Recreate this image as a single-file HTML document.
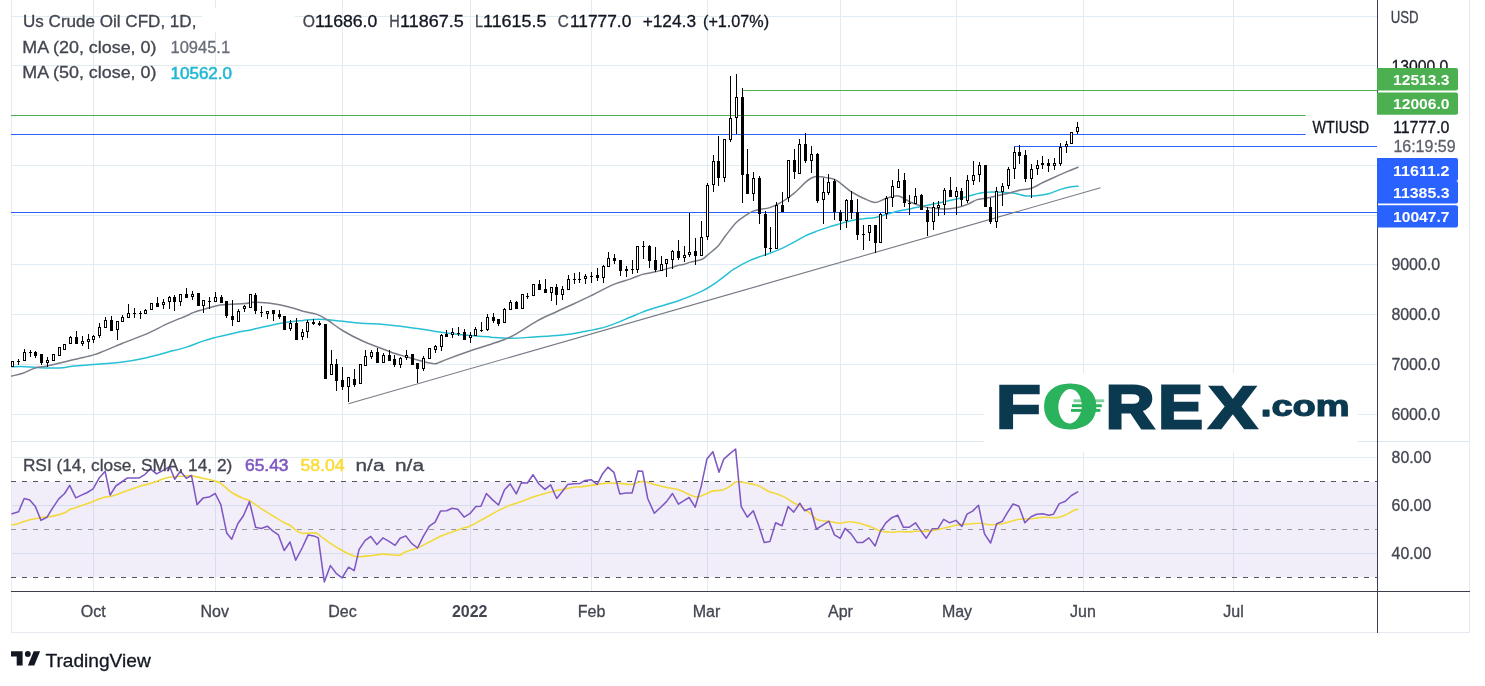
<!DOCTYPE html>
<html><head><meta charset="utf-8"><title>Us Crude Oil CFD</title>
<style>html,body{margin:0;padding:0;background:#fff;}svg{display:block}</style></head>
<body>
<svg width="1485" height="686" viewBox="0 0 1485 686" font-family='"Liberation Sans", sans-serif'>
<rect width="1485" height="686" fill="#fff"/>
<g shape-rendering="crispEdges" stroke="#e1ecf2" stroke-width="1">
<line x1="93.5" y1="0" x2="93.5" y2="591"/>
<line x1="215.5" y1="0" x2="215.5" y2="591"/>
<line x1="342.5" y1="0" x2="342.5" y2="591"/>
<line x1="470.5" y1="0" x2="470.5" y2="591"/>
<line x1="591.5" y1="0" x2="591.5" y2="591"/>
<line x1="707.5" y1="0" x2="707.5" y2="591"/>
<line x1="840.5" y1="0" x2="840.5" y2="591"/>
<line x1="956.5" y1="0" x2="956.5" y2="591"/>
<line x1="1083.5" y1="0" x2="1083.5" y2="591"/>
<line x1="1233.5" y1="0" x2="1233.5" y2="591"/>
<line x1="11" y1="16.5" x2="1377" y2="16.5"/>
<line x1="11" y1="65.5" x2="1377" y2="65.5"/>
<line x1="11" y1="115.5" x2="1377" y2="115.5"/>
<line x1="11" y1="165.5" x2="1377" y2="165.5"/>
<line x1="11" y1="215.5" x2="1377" y2="215.5"/>
<line x1="11" y1="264.5" x2="1377" y2="264.5"/>
<line x1="11" y1="314.5" x2="1377" y2="314.5"/>
<line x1="11" y1="364.5" x2="1377" y2="364.5"/>
<line x1="11" y1="414.5" x2="1377" y2="414.5"/>
<line x1="11" y1="457.5" x2="1377" y2="457.5"/>
<line x1="11" y1="505.5" x2="1377" y2="505.5"/>
<line x1="11" y1="553.5" x2="1377" y2="553.5"/>
</g>
<rect x="11" y="481.5" width="1366.5" height="95.8" fill="rgba(126,87,194,0.1)"/>
<rect x="202" y="8" width="93" height="24" fill="#fff"/>
<g shape-rendering="crispEdges" stroke="#e8eaf2" stroke-width="1">
<line x1="11" y1="441.5" x2="1470" y2="441.5" stroke="#dde5ef"/>
<line x1="11.5" y1="0" x2="11.5" y2="633"/>
<line x1="1469.5" y1="0" x2="1469.5" y2="633"/>
<line x1="11" y1="632.5" x2="1470" y2="632.5"/>
</g>
<g shape-rendering="crispEdges" stroke-width="1" stroke-dasharray="5 6">
<line x1="11" y1="481.5" x2="1377" y2="481.5" stroke="#50535e"/>
<line x1="11" y1="529.5" x2="1377" y2="529.5" stroke="#9598a1"/>
<line x1="11" y1="577.5" x2="1377" y2="577.5" stroke="#50535e"/>
</g>
<g shape-rendering="crispEdges" stroke-width="1">
<line x1="743" y1="90.5" x2="1377" y2="90.5" stroke="#4caf50"/>
<line x1="11" y1="115.5" x2="1377" y2="115.5" stroke="#4caf50"/>
<line x1="11" y1="134.5" x2="1377" y2="134.5" stroke="#2962ff"/>
<line x1="1014" y1="146.5" x2="1377" y2="146.5" stroke="#2962ff"/>
<line x1="11" y1="212.5" x2="1377" y2="212.5" stroke="#2962ff"/>
</g>
<line x1="348.4" y1="403.7" x2="1100.5" y2="187.7" stroke="#787b86" stroke-width="1.1"/>
<path d="M11.6,366.7 C14.0,366.7 21.5,366.5 26.3,366.7 C31.1,366.8 35.9,367.5 40.3,367.7 C44.7,368.0 48.7,368.1 52.5,368.1 C56.3,368.1 59.5,368.1 63.0,367.7 C66.5,367.4 68.4,366.5 73.6,366.0 C78.7,365.4 85.5,365.2 93.7,364.6 C101.9,363.9 114.0,363.1 122.6,361.9 C131.2,360.8 137.8,359.6 145.4,357.9 C152.9,356.3 161.3,353.8 168.1,352.0 C175.0,350.2 180.6,348.9 186.5,347.1 C192.4,345.2 198.7,342.5 203.5,340.9 C208.3,339.3 210.7,338.7 215.6,337.4 C220.4,336.2 227.6,334.5 232.6,333.4 C237.5,332.3 242.2,331.3 245.2,330.8 C248.2,330.2 247.9,330.6 250.5,330.0 C253.1,329.4 255.5,328.6 261.0,327.4 C266.6,326.2 276.8,323.8 283.8,322.7 C290.8,321.5 297.2,321.0 303.0,320.4 C308.9,319.8 313.6,319.2 318.8,319.2 C324.1,319.2 327.6,319.7 334.6,320.4 C341.6,321.0 352.7,322.5 360.8,323.2 C369.0,323.8 376.0,323.8 383.6,324.4 C391.2,325.0 398.2,326.0 406.4,327.0 C414.5,328.1 425.0,329.8 432.6,330.9 C440.3,332.0 445.1,332.8 452.4,333.7 C459.7,334.6 470.2,335.6 476.4,336.1 C482.7,336.7 487.7,336.8 490.0,336.9 C492.3,337.1 486.9,337.0 490.4,337.2 C493.9,337.4 503.8,338.4 511.0,338.3 C518.2,338.3 525.6,337.5 533.8,336.9 C542.0,336.4 552.2,336.0 560.1,335.2 C567.9,334.4 573.2,333.7 581.1,332.2 C588.9,330.7 599.2,328.9 607.3,326.4 C615.5,323.9 624.3,319.7 630.1,317.3 C635.9,314.9 638.1,313.7 642.4,312.1 C646.6,310.5 649.5,309.6 655.5,307.7 C661.5,305.8 670.8,303.4 678.4,300.7 C686.1,298.0 694.8,294.6 701.4,291.4 C707.9,288.2 712.5,285.0 717.7,281.4 C722.9,277.8 729.6,272.2 732.5,270.0 C735.5,267.8 732.8,269.6 735.2,268.3 C737.5,267.0 742.5,264.0 746.5,262.1 C750.6,260.2 755.5,258.3 759.5,256.8 C763.5,255.3 766.7,254.4 770.5,253.0 C774.4,251.5 778.5,249.9 782.5,248.1 C786.5,246.2 790.7,244.0 794.5,241.9 C798.4,239.9 801.6,237.7 805.4,235.8 C809.2,234.0 813.6,232.4 817.5,230.9 C821.3,229.5 824.7,228.3 828.5,227.1 C832.4,225.8 836.7,224.7 840.6,223.6 C844.4,222.4 847.8,221.2 851.6,220.4 C855.5,219.6 859.6,219.1 863.5,218.7 C867.5,218.2 871.6,218.1 875.4,217.4 C879.3,216.7 882.7,215.5 886.5,214.4 C890.3,213.4 894.5,211.8 898.4,210.9 C902.2,210.0 906.8,209.6 909.6,209.0 C912.5,208.5 912.6,208.1 915.6,207.5 C918.6,206.8 922.7,206.2 927.5,205.2 C932.3,204.2 939.7,202.7 944.5,201.7 C949.3,200.7 952.5,199.9 956.4,199.1 C960.2,198.2 963.7,197.4 967.6,196.4 C971.5,195.5 975.7,194.0 979.5,193.3 C983.3,192.6 986.7,192.2 990.5,192.1 C994.4,191.9 998.5,192.2 1002.5,192.4 C1006.5,192.6 1010.7,192.7 1014.5,193.3 C1018.4,193.9 1021.6,195.5 1025.4,195.9 C1029.2,196.3 1033.6,195.9 1037.5,195.6 C1041.3,195.2 1044.7,194.8 1048.5,193.8 C1052.4,192.8 1056.7,190.6 1060.6,189.4 C1064.4,188.3 1068.7,187.3 1071.6,186.8 C1074.5,186.3 1077.0,186.4 1078.1,186.3" fill="none" stroke="#26c0d6" stroke-width="1.5" stroke-linejoin="round" stroke-linecap="round"/>
<path d="M11.6,376.0 C13.4,375.5 18.9,374.6 22.8,373.3 C26.7,372.0 30.9,369.3 35.0,368.1 C39.1,366.8 42.3,367.0 47.3,366.0 C52.2,365.0 59.5,363.2 64.8,361.9 C70.1,360.7 74.0,359.6 78.8,358.4 C83.6,357.3 89.3,356.3 93.7,354.9 C98.1,353.6 100.3,352.5 105.1,350.6 C109.9,348.6 115.9,345.9 122.6,343.2 C129.3,340.5 137.8,337.7 145.4,334.4 C152.9,331.2 161.3,326.5 168.1,323.4 C175.0,320.3 182.5,317.6 186.5,315.9 C190.6,314.1 189.6,314.0 192.5,312.9 C195.3,311.8 199.6,310.6 203.5,309.4 C207.4,308.2 211.6,306.7 215.6,305.9 C219.6,305.1 222.7,304.9 227.7,304.5 C232.6,304.1 241.4,304.0 245.2,303.6 C249.0,303.3 247.9,302.7 250.5,302.5 C253.1,302.3 256.9,302.3 261.0,302.5 C265.1,302.7 270.1,303.1 275.0,303.9 C280.0,304.7 286.1,306.2 290.8,307.4 C295.5,308.6 298.7,310.1 303.0,311.3 C307.4,312.4 313.0,313.0 317.1,314.4 C321.1,315.9 323.3,317.3 327.6,320.0 C331.8,322.7 336.6,327.0 342.5,330.5 C348.3,334.0 356.6,338.3 362.6,341.0 C368.6,343.8 373.1,345.1 378.4,347.2 C383.6,349.2 389.4,351.7 394.1,353.3 C398.8,354.9 401.4,355.4 406.4,356.8 C411.3,358.2 419.7,360.6 423.9,361.7 C428.1,362.8 429.9,362.9 431.8,363.3 C433.7,363.6 434.1,363.9 435.3,363.8 C436.4,363.7 436.9,363.3 438.8,362.6 C440.7,361.9 441.4,361.4 446.7,359.4 C451.9,357.4 463.2,353.2 470.5,350.7 C477.7,348.2 486.4,345.6 490.0,344.5 C493.6,343.3 489.9,344.5 492.2,343.7 C494.5,342.9 500.0,341.3 504.0,339.7 C508.0,338.1 510.7,337.1 516.3,333.9 C521.8,330.8 530.6,324.5 537.3,320.8 C544.0,317.1 550.4,314.6 556.5,311.7 C562.7,308.8 568.2,306.4 574.1,303.7 C579.9,300.9 585.2,298.5 591.6,295.4 C598.0,292.3 606.2,287.6 612.6,284.9 C619.0,282.2 625.1,280.9 630.1,279.1 C635.1,277.4 638.1,275.6 642.4,274.4 C646.6,273.2 650.5,272.9 655.5,271.8 C660.5,270.6 668.2,268.5 672.1,267.4 C676.1,266.3 677.1,265.7 679.1,265.1 C681.2,264.6 682.7,264.7 684.6,264.2 C686.4,263.7 687.7,262.9 690.5,262.1 C693.3,261.3 698.7,260.6 701.5,259.5 C704.4,258.3 704.7,257.4 707.5,255.1 C710.3,252.7 715.5,248.7 718.5,245.4 C721.5,242.2 722.6,239.6 725.5,235.8 C728.5,232.0 732.5,226.2 736.0,222.7 C739.5,219.2 743.6,216.8 746.5,214.8 C749.5,212.8 751.4,211.8 753.6,210.9 C755.7,210.1 756.7,210.1 759.5,209.5 C762.3,209.0 766.7,208.8 770.5,207.4 C774.4,206.1 778.5,204.1 782.5,201.7 C786.5,199.2 790.7,196.1 794.5,192.9 C798.4,189.7 802.6,184.9 805.4,182.4 C808.2,179.9 809.5,179.0 811.5,178.0 C813.5,177.1 814.6,176.6 817.5,176.6 C820.3,176.6 825.7,177.6 828.5,178.0 C831.3,178.5 832.5,178.5 834.5,179.4 C836.5,180.3 837.7,181.2 840.6,183.3 C843.5,185.4 847.8,189.6 851.6,192.0 C855.5,194.5 859.6,196.4 863.5,198.2 C867.5,199.9 871.6,202.5 875.4,202.5 C879.3,202.5 882.7,199.3 886.5,198.2 C890.3,197.1 894.5,195.3 898.4,195.9 C902.2,196.5 905.8,200.0 909.6,201.7 C913.5,203.4 917.6,205.0 921.5,206.1 C925.5,207.2 929.6,207.8 933.5,208.3 C937.3,208.8 940.7,209.1 944.5,209.0 C948.3,209.0 952.5,208.6 956.4,207.8 C960.2,207.0 964.2,205.7 967.6,204.3 C971.0,202.9 974.1,200.6 977.1,199.6 C980.0,198.6 982.2,198.8 985.5,198.2 C988.7,197.6 992.7,196.7 996.5,195.9 C1000.3,195.1 1004.6,194.2 1008.4,193.3 C1012.2,192.3 1015.6,191.2 1019.4,190.3 C1023.3,189.5 1027.7,189.5 1031.5,188.2 C1035.3,186.9 1038.6,184.6 1042.4,182.8 C1046.2,180.9 1050.4,179.0 1054.5,177.2 C1058.5,175.4 1062.6,173.6 1066.5,171.9 C1070.5,170.3 1076.2,168.0 1078.1,167.2" fill="none" stroke="#7b7e89" stroke-width="1.5" stroke-linejoin="round" stroke-linecap="round"/>
<g shape-rendering="crispEdges" fill="#000">
<rect x="12" y="361" width="1" height="6"/>
<rect x="11" y="361" width="3" height="6"/>
<rect x="12" y="362" width="1" height="4" fill="#fff"/>
<rect x="18" y="359" width="1" height="6"/>
<rect x="17" y="361" width="3" height="1"/>
<rect x="24" y="349" width="1" height="12"/>
<rect x="23" y="352" width="3" height="9"/>
<rect x="24" y="353" width="1" height="7" fill="#fff"/>
<rect x="30" y="350" width="1" height="7"/>
<rect x="29" y="352" width="3" height="1"/>
<rect x="35" y="351" width="1" height="7"/>
<rect x="34" y="352" width="3" height="4"/>
<rect x="41" y="354" width="1" height="11"/>
<rect x="40" y="354" width="3" height="9"/>
<rect x="47" y="357" width="1" height="10"/>
<rect x="46" y="360" width="3" height="3"/>
<rect x="47" y="361" width="1" height="1" fill="#fff"/>
<rect x="53" y="354" width="1" height="7"/>
<rect x="52" y="354" width="3" height="7"/>
<rect x="53" y="355" width="1" height="5" fill="#fff"/>
<rect x="59" y="347" width="1" height="9"/>
<rect x="58" y="347" width="3" height="9"/>
<rect x="59" y="348" width="1" height="7" fill="#fff"/>
<rect x="64" y="344" width="1" height="6"/>
<rect x="63" y="344" width="3" height="6"/>
<rect x="64" y="345" width="1" height="4" fill="#fff"/>
<rect x="70" y="336" width="1" height="8"/>
<rect x="69" y="337" width="3" height="7"/>
<rect x="70" y="338" width="1" height="5" fill="#fff"/>
<rect x="76" y="331" width="1" height="13"/>
<rect x="75" y="337" width="3" height="7"/>
<rect x="82" y="336" width="1" height="10"/>
<rect x="81" y="341" width="3" height="3"/>
<rect x="82" y="342" width="1" height="1" fill="#fff"/>
<rect x="88" y="334" width="1" height="15"/>
<rect x="87" y="339" width="3" height="3"/>
<rect x="88" y="340" width="1" height="1" fill="#fff"/>
<rect x="93" y="335" width="1" height="8"/>
<rect x="92" y="336" width="3" height="4"/>
<rect x="93" y="337" width="1" height="2" fill="#fff"/>
<rect x="99" y="323" width="1" height="15"/>
<rect x="98" y="327" width="3" height="9"/>
<rect x="99" y="328" width="1" height="7" fill="#fff"/>
<rect x="105" y="317" width="1" height="11"/>
<rect x="104" y="320" width="3" height="8"/>
<rect x="105" y="321" width="1" height="6" fill="#fff"/>
<rect x="111" y="316" width="1" height="15"/>
<rect x="110" y="320" width="3" height="11"/>
<rect x="117" y="321" width="1" height="19"/>
<rect x="116" y="321" width="3" height="9"/>
<rect x="117" y="322" width="1" height="7" fill="#fff"/>
<rect x="122" y="315" width="1" height="7"/>
<rect x="121" y="317" width="3" height="5"/>
<rect x="122" y="318" width="1" height="3" fill="#fff"/>
<rect x="128" y="304" width="1" height="14"/>
<rect x="127" y="313" width="3" height="5"/>
<rect x="128" y="314" width="1" height="3" fill="#fff"/>
<rect x="134" y="308" width="1" height="10"/>
<rect x="133" y="313" width="3" height="1"/>
<rect x="140" y="311" width="1" height="8"/>
<rect x="139" y="313" width="3" height="1"/>
<rect x="145" y="309" width="1" height="5"/>
<rect x="144" y="310" width="3" height="4"/>
<rect x="145" y="311" width="1" height="2" fill="#fff"/>
<rect x="151" y="303" width="1" height="7"/>
<rect x="150" y="303" width="3" height="7"/>
<rect x="151" y="304" width="1" height="5" fill="#fff"/>
<rect x="157" y="297" width="1" height="10"/>
<rect x="156" y="303" width="3" height="4"/>
<rect x="163" y="299" width="1" height="10"/>
<rect x="162" y="302" width="3" height="3"/>
<rect x="163" y="303" width="1" height="1" fill="#fff"/>
<rect x="169" y="296" width="1" height="13"/>
<rect x="168" y="297" width="3" height="5"/>
<rect x="169" y="298" width="1" height="3" fill="#fff"/>
<rect x="174" y="295" width="1" height="16"/>
<rect x="173" y="297" width="3" height="5"/>
<rect x="180" y="294" width="1" height="12"/>
<rect x="179" y="294" width="3" height="8"/>
<rect x="180" y="295" width="1" height="6" fill="#fff"/>
<rect x="186" y="288" width="1" height="10"/>
<rect x="185" y="294" width="3" height="4"/>
<rect x="192" y="291" width="1" height="9"/>
<rect x="191" y="294" width="3" height="3"/>
<rect x="192" y="295" width="1" height="1" fill="#fff"/>
<rect x="198" y="293" width="1" height="13"/>
<rect x="197" y="293" width="3" height="13"/>
<rect x="203" y="300" width="1" height="13"/>
<rect x="202" y="300" width="3" height="6"/>
<rect x="203" y="301" width="1" height="4" fill="#fff"/>
<rect x="209" y="297" width="1" height="12"/>
<rect x="208" y="301" width="3" height="1"/>
<rect x="215" y="292" width="1" height="10"/>
<rect x="214" y="297" width="3" height="5"/>
<rect x="215" y="298" width="1" height="3" fill="#fff"/>
<rect x="221" y="295" width="1" height="8"/>
<rect x="220" y="297" width="3" height="6"/>
<rect x="226" y="301" width="1" height="17"/>
<rect x="225" y="301" width="3" height="15"/>
<rect x="232" y="300" width="1" height="26"/>
<rect x="231" y="316" width="3" height="4"/>
<rect x="238" y="309" width="1" height="13"/>
<rect x="237" y="311" width="3" height="11"/>
<rect x="238" y="312" width="1" height="9" fill="#fff"/>
<rect x="244" y="305" width="1" height="7"/>
<rect x="243" y="306" width="3" height="3"/>
<rect x="244" y="307" width="1" height="1" fill="#fff"/>
<rect x="250" y="294" width="1" height="14"/>
<rect x="249" y="294" width="3" height="14"/>
<rect x="250" y="295" width="1" height="12" fill="#fff"/>
<rect x="255" y="293" width="1" height="21"/>
<rect x="254" y="295" width="3" height="16"/>
<rect x="261" y="306" width="1" height="11"/>
<rect x="260" y="312" width="3" height="1"/>
<rect x="267" y="311" width="1" height="8"/>
<rect x="266" y="311" width="3" height="3"/>
<rect x="267" y="312" width="1" height="1" fill="#fff"/>
<rect x="273" y="310" width="1" height="11"/>
<rect x="272" y="310" width="3" height="4"/>
<rect x="279" y="310" width="1" height="9"/>
<rect x="278" y="314" width="3" height="3"/>
<rect x="284" y="316" width="1" height="14"/>
<rect x="283" y="316" width="3" height="14"/>
<rect x="290" y="320" width="1" height="11"/>
<rect x="289" y="323" width="3" height="6"/>
<rect x="290" y="324" width="1" height="4" fill="#fff"/>
<rect x="296" y="318" width="1" height="22"/>
<rect x="295" y="323" width="3" height="17"/>
<rect x="302" y="329" width="1" height="11"/>
<rect x="301" y="332" width="3" height="5"/>
<rect x="302" y="333" width="1" height="3" fill="#fff"/>
<rect x="307" y="320" width="1" height="18"/>
<rect x="306" y="322" width="3" height="10"/>
<rect x="307" y="323" width="1" height="8" fill="#fff"/>
<rect x="313" y="319" width="1" height="6"/>
<rect x="312" y="322" width="3" height="2"/>
<rect x="319" y="321" width="1" height="5"/>
<rect x="318" y="323" width="3" height="2"/>
<rect x="325" y="324" width="1" height="55"/>
<rect x="324" y="324" width="3" height="55"/>
<rect x="331" y="350" width="1" height="25"/>
<rect x="330" y="364" width="3" height="11"/>
<rect x="331" y="365" width="1" height="9" fill="#fff"/>
<rect x="336" y="359" width="1" height="32"/>
<rect x="335" y="364" width="3" height="17"/>
<rect x="342" y="367" width="1" height="23"/>
<rect x="341" y="380" width="3" height="7"/>
<rect x="348" y="377" width="1" height="25"/>
<rect x="347" y="377" width="3" height="10"/>
<rect x="348" y="378" width="1" height="8" fill="#fff"/>
<rect x="354" y="369" width="1" height="18"/>
<rect x="353" y="379" width="3" height="6"/>
<rect x="360" y="364" width="1" height="20"/>
<rect x="359" y="364" width="3" height="20"/>
<rect x="360" y="365" width="1" height="18" fill="#fff"/>
<rect x="365" y="350" width="1" height="16"/>
<rect x="364" y="356" width="3" height="10"/>
<rect x="365" y="357" width="1" height="8" fill="#fff"/>
<rect x="371" y="350" width="1" height="9"/>
<rect x="370" y="352" width="3" height="5"/>
<rect x="371" y="353" width="1" height="3" fill="#fff"/>
<rect x="377" y="348" width="1" height="15"/>
<rect x="376" y="352" width="3" height="11"/>
<rect x="383" y="353" width="1" height="10"/>
<rect x="382" y="355" width="3" height="8"/>
<rect x="383" y="356" width="1" height="6" fill="#fff"/>
<rect x="389" y="350" width="1" height="11"/>
<rect x="388" y="355" width="3" height="6"/>
<rect x="394" y="355" width="1" height="12"/>
<rect x="393" y="359" width="3" height="6"/>
<rect x="400" y="357" width="1" height="11"/>
<rect x="399" y="358" width="3" height="7"/>
<rect x="400" y="359" width="1" height="5" fill="#fff"/>
<rect x="406" y="350" width="1" height="10"/>
<rect x="405" y="355" width="3" height="3"/>
<rect x="406" y="356" width="1" height="1" fill="#fff"/>
<rect x="412" y="354" width="1" height="11"/>
<rect x="411" y="354" width="3" height="11"/>
<rect x="417" y="363" width="1" height="20"/>
<rect x="416" y="363" width="3" height="6"/>
<rect x="423" y="356" width="1" height="15"/>
<rect x="422" y="358" width="3" height="11"/>
<rect x="423" y="359" width="1" height="9" fill="#fff"/>
<rect x="429" y="348" width="1" height="11"/>
<rect x="428" y="348" width="3" height="11"/>
<rect x="429" y="349" width="1" height="9" fill="#fff"/>
<rect x="435" y="345" width="1" height="8"/>
<rect x="434" y="346" width="3" height="4"/>
<rect x="435" y="347" width="1" height="2" fill="#fff"/>
<rect x="441" y="334" width="1" height="17"/>
<rect x="440" y="335" width="3" height="12"/>
<rect x="441" y="336" width="1" height="10" fill="#fff"/>
<rect x="446" y="330" width="1" height="7"/>
<rect x="445" y="334" width="3" height="3"/>
<rect x="452" y="328" width="1" height="10"/>
<rect x="451" y="332" width="3" height="3"/>
<rect x="452" y="333" width="1" height="1" fill="#fff"/>
<rect x="458" y="327" width="1" height="9"/>
<rect x="457" y="333" width="3" height="1"/>
<rect x="464" y="329" width="1" height="11"/>
<rect x="463" y="332" width="3" height="8"/>
<rect x="470" y="332" width="1" height="11"/>
<rect x="469" y="335" width="3" height="3"/>
<rect x="470" y="336" width="1" height="1" fill="#fff"/>
<rect x="475" y="327" width="1" height="9"/>
<rect x="474" y="329" width="3" height="7"/>
<rect x="475" y="330" width="1" height="5" fill="#fff"/>
<rect x="481" y="322" width="1" height="10"/>
<rect x="480" y="330" width="3" height="1"/>
<rect x="487" y="314" width="1" height="17"/>
<rect x="486" y="317" width="3" height="13"/>
<rect x="487" y="318" width="1" height="11" fill="#fff"/>
<rect x="493" y="313" width="1" height="10"/>
<rect x="492" y="317" width="3" height="4"/>
<rect x="498" y="319" width="1" height="7"/>
<rect x="497" y="319" width="3" height="5"/>
<rect x="504" y="308" width="1" height="15"/>
<rect x="503" y="309" width="3" height="14"/>
<rect x="504" y="310" width="1" height="12" fill="#fff"/>
<rect x="510" y="300" width="1" height="10"/>
<rect x="509" y="302" width="3" height="8"/>
<rect x="510" y="303" width="1" height="6" fill="#fff"/>
<rect x="516" y="301" width="1" height="8"/>
<rect x="515" y="302" width="3" height="7"/>
<rect x="522" y="294" width="1" height="15"/>
<rect x="521" y="294" width="3" height="15"/>
<rect x="522" y="295" width="1" height="13" fill="#fff"/>
<rect x="527" y="293" width="1" height="6"/>
<rect x="526" y="296" width="3" height="1"/>
<rect x="533" y="284" width="1" height="12"/>
<rect x="532" y="284" width="3" height="12"/>
<rect x="533" y="285" width="1" height="10" fill="#fff"/>
<rect x="539" y="280" width="1" height="10"/>
<rect x="538" y="284" width="3" height="6"/>
<rect x="545" y="279" width="1" height="14"/>
<rect x="544" y="289" width="3" height="4"/>
<rect x="551" y="287" width="1" height="14"/>
<rect x="550" y="287" width="3" height="6"/>
<rect x="551" y="288" width="1" height="4" fill="#fff"/>
<rect x="556" y="284" width="1" height="21"/>
<rect x="555" y="287" width="3" height="8"/>
<rect x="562" y="286" width="1" height="14"/>
<rect x="561" y="289" width="3" height="6"/>
<rect x="562" y="290" width="1" height="4" fill="#fff"/>
<rect x="568" y="275" width="1" height="15"/>
<rect x="567" y="279" width="3" height="11"/>
<rect x="568" y="280" width="1" height="9" fill="#fff"/>
<rect x="574" y="273" width="1" height="11"/>
<rect x="573" y="279" width="3" height="1"/>
<rect x="579" y="272" width="1" height="11"/>
<rect x="578" y="279" width="3" height="1"/>
<rect x="585" y="274" width="1" height="10"/>
<rect x="584" y="276" width="3" height="3"/>
<rect x="585" y="277" width="1" height="1" fill="#fff"/>
<rect x="591" y="272" width="1" height="11"/>
<rect x="590" y="276" width="3" height="1"/>
<rect x="597" y="268" width="1" height="13"/>
<rect x="596" y="275" width="3" height="3"/>
<rect x="603" y="265" width="1" height="18"/>
<rect x="602" y="266" width="3" height="12"/>
<rect x="603" y="267" width="1" height="10" fill="#fff"/>
<rect x="608" y="252" width="1" height="15"/>
<rect x="607" y="258" width="3" height="9"/>
<rect x="608" y="259" width="1" height="7" fill="#fff"/>
<rect x="614" y="254" width="1" height="10"/>
<rect x="613" y="258" width="3" height="3"/>
<rect x="620" y="260" width="1" height="16"/>
<rect x="619" y="260" width="3" height="11"/>
<rect x="626" y="266" width="1" height="11"/>
<rect x="625" y="269" width="3" height="2"/>
<rect x="632" y="260" width="1" height="14"/>
<rect x="631" y="269" width="3" height="1"/>
<rect x="637" y="246" width="1" height="27"/>
<rect x="636" y="246" width="3" height="24"/>
<rect x="637" y="247" width="1" height="22" fill="#fff"/>
<rect x="643" y="241" width="1" height="18"/>
<rect x="642" y="246" width="3" height="1"/>
<rect x="649" y="245" width="1" height="23"/>
<rect x="648" y="246" width="3" height="15"/>
<rect x="655" y="247" width="1" height="25"/>
<rect x="654" y="260" width="3" height="10"/>
<rect x="661" y="256" width="1" height="15"/>
<rect x="660" y="264" width="3" height="7"/>
<rect x="661" y="265" width="1" height="5" fill="#fff"/>
<rect x="666" y="259" width="1" height="18"/>
<rect x="665" y="259" width="3" height="5"/>
<rect x="666" y="260" width="1" height="3" fill="#fff"/>
<rect x="672" y="250" width="1" height="19"/>
<rect x="671" y="251" width="3" height="9"/>
<rect x="672" y="252" width="1" height="7" fill="#fff"/>
<rect x="678" y="240" width="1" height="20"/>
<rect x="677" y="251" width="3" height="7"/>
<rect x="684" y="246" width="1" height="16"/>
<rect x="683" y="255" width="3" height="3"/>
<rect x="684" y="256" width="1" height="1" fill="#fff"/>
<rect x="689" y="213" width="1" height="44"/>
<rect x="688" y="252" width="3" height="3"/>
<rect x="689" y="253" width="1" height="1" fill="#fff"/>
<rect x="695" y="238" width="1" height="27"/>
<rect x="694" y="251" width="3" height="5"/>
<rect x="701" y="221" width="1" height="35"/>
<rect x="700" y="237" width="3" height="19"/>
<rect x="701" y="238" width="1" height="17" fill="#fff"/>
<rect x="707" y="183" width="1" height="57"/>
<rect x="706" y="185" width="3" height="52"/>
<rect x="707" y="186" width="1" height="50" fill="#fff"/>
<rect x="713" y="155" width="1" height="37"/>
<rect x="712" y="161" width="3" height="24"/>
<rect x="713" y="162" width="1" height="22" fill="#fff"/>
<rect x="718" y="136" width="1" height="50"/>
<rect x="717" y="161" width="3" height="17"/>
<rect x="724" y="139" width="1" height="43"/>
<rect x="723" y="139" width="3" height="39"/>
<rect x="724" y="140" width="1" height="37" fill="#fff"/>
<rect x="730" y="76" width="1" height="66"/>
<rect x="729" y="118" width="3" height="22"/>
<rect x="730" y="119" width="1" height="20" fill="#fff"/>
<rect x="736" y="74" width="1" height="60"/>
<rect x="735" y="97" width="3" height="21"/>
<rect x="736" y="98" width="1" height="19" fill="#fff"/>
<rect x="742" y="88" width="1" height="115"/>
<rect x="741" y="97" width="3" height="78"/>
<rect x="747" y="149" width="1" height="45"/>
<rect x="746" y="174" width="3" height="20"/>
<rect x="753" y="172" width="1" height="29"/>
<rect x="752" y="178" width="3" height="16"/>
<rect x="753" y="179" width="1" height="14" fill="#fff"/>
<rect x="759" y="176" width="1" height="48"/>
<rect x="758" y="178" width="3" height="36"/>
<rect x="765" y="211" width="1" height="45"/>
<rect x="764" y="214" width="3" height="34"/>
<rect x="770" y="227" width="1" height="25"/>
<rect x="769" y="248" width="3" height="1"/>
<rect x="776" y="202" width="1" height="47"/>
<rect x="775" y="205" width="3" height="44"/>
<rect x="776" y="206" width="1" height="42" fill="#fff"/>
<rect x="782" y="192" width="1" height="20"/>
<rect x="781" y="205" width="3" height="7"/>
<rect x="788" y="160" width="1" height="42"/>
<rect x="787" y="160" width="3" height="38"/>
<rect x="788" y="161" width="1" height="36" fill="#fff"/>
<rect x="794" y="149" width="1" height="30"/>
<rect x="793" y="160" width="3" height="12"/>
<rect x="799" y="139" width="1" height="35"/>
<rect x="798" y="144" width="3" height="30"/>
<rect x="799" y="145" width="1" height="28" fill="#fff"/>
<rect x="805" y="133" width="1" height="30"/>
<rect x="804" y="144" width="3" height="17"/>
<rect x="811" y="146" width="1" height="27"/>
<rect x="810" y="154" width="3" height="7"/>
<rect x="811" y="155" width="1" height="5" fill="#fff"/>
<rect x="817" y="153" width="1" height="50"/>
<rect x="816" y="154" width="3" height="47"/>
<rect x="823" y="178" width="1" height="46"/>
<rect x="822" y="192" width="3" height="8"/>
<rect x="823" y="193" width="1" height="6" fill="#fff"/>
<rect x="828" y="174" width="1" height="21"/>
<rect x="827" y="182" width="3" height="11"/>
<rect x="828" y="183" width="1" height="9" fill="#fff"/>
<rect x="834" y="179" width="1" height="41"/>
<rect x="833" y="181" width="3" height="31"/>
<rect x="840" y="210" width="1" height="20"/>
<rect x="839" y="212" width="3" height="9"/>
<rect x="846" y="199" width="1" height="29"/>
<rect x="845" y="200" width="3" height="21"/>
<rect x="846" y="201" width="1" height="19" fill="#fff"/>
<rect x="851" y="191" width="1" height="28"/>
<rect x="850" y="200" width="3" height="13"/>
<rect x="857" y="199" width="1" height="41"/>
<rect x="856" y="212" width="3" height="23"/>
<rect x="863" y="225" width="1" height="25"/>
<rect x="862" y="234" width="3" height="1"/>
<rect x="869" y="225" width="1" height="16"/>
<rect x="868" y="225" width="3" height="8"/>
<rect x="869" y="226" width="1" height="6" fill="#fff"/>
<rect x="875" y="225" width="1" height="28"/>
<rect x="874" y="225" width="3" height="18"/>
<rect x="880" y="213" width="1" height="30"/>
<rect x="879" y="214" width="3" height="29"/>
<rect x="880" y="215" width="1" height="27" fill="#fff"/>
<rect x="886" y="196" width="1" height="23"/>
<rect x="885" y="198" width="3" height="16"/>
<rect x="886" y="199" width="1" height="14" fill="#fff"/>
<rect x="892" y="180" width="1" height="27"/>
<rect x="891" y="186" width="3" height="12"/>
<rect x="892" y="187" width="1" height="10" fill="#fff"/>
<rect x="898" y="169" width="1" height="19"/>
<rect x="897" y="181" width="3" height="7"/>
<rect x="898" y="182" width="1" height="5" fill="#fff"/>
<rect x="904" y="173" width="1" height="34"/>
<rect x="903" y="180" width="3" height="23"/>
<rect x="909" y="195" width="1" height="20"/>
<rect x="908" y="203" width="3" height="1"/>
<rect x="915" y="188" width="1" height="16"/>
<rect x="914" y="196" width="3" height="8"/>
<rect x="915" y="197" width="1" height="6" fill="#fff"/>
<rect x="921" y="194" width="1" height="16"/>
<rect x="920" y="195" width="3" height="15"/>
<rect x="927" y="207" width="1" height="29"/>
<rect x="926" y="210" width="3" height="12"/>
<rect x="933" y="202" width="1" height="28"/>
<rect x="932" y="207" width="3" height="15"/>
<rect x="933" y="208" width="1" height="13" fill="#fff"/>
<rect x="938" y="201" width="1" height="15"/>
<rect x="937" y="205" width="3" height="3"/>
<rect x="938" y="206" width="1" height="1" fill="#fff"/>
<rect x="944" y="188" width="1" height="27"/>
<rect x="943" y="190" width="3" height="15"/>
<rect x="944" y="191" width="1" height="13" fill="#fff"/>
<rect x="950" y="177" width="1" height="20"/>
<rect x="949" y="190" width="3" height="7"/>
<rect x="956" y="187" width="1" height="28"/>
<rect x="955" y="191" width="3" height="6"/>
<rect x="956" y="192" width="1" height="4" fill="#fff"/>
<rect x="961" y="188" width="1" height="18"/>
<rect x="960" y="191" width="3" height="9"/>
<rect x="967" y="175" width="1" height="28"/>
<rect x="966" y="180" width="3" height="21"/>
<rect x="967" y="181" width="1" height="19" fill="#fff"/>
<rect x="973" y="161" width="1" height="24"/>
<rect x="972" y="175" width="3" height="6"/>
<rect x="973" y="176" width="1" height="4" fill="#fff"/>
<rect x="979" y="162" width="1" height="20"/>
<rect x="978" y="165" width="3" height="10"/>
<rect x="979" y="166" width="1" height="8" fill="#fff"/>
<rect x="985" y="165" width="1" height="42"/>
<rect x="984" y="165" width="3" height="42"/>
<rect x="990" y="198" width="1" height="26"/>
<rect x="989" y="207" width="3" height="15"/>
<rect x="996" y="187" width="1" height="41"/>
<rect x="995" y="191" width="3" height="31"/>
<rect x="996" y="192" width="1" height="29" fill="#fff"/>
<rect x="1002" y="183" width="1" height="23"/>
<rect x="1001" y="186" width="3" height="6"/>
<rect x="1002" y="187" width="1" height="4" fill="#fff"/>
<rect x="1008" y="167" width="1" height="22"/>
<rect x="1007" y="169" width="3" height="17"/>
<rect x="1008" y="170" width="1" height="15" fill="#fff"/>
<rect x="1014" y="147" width="1" height="32"/>
<rect x="1013" y="152" width="3" height="17"/>
<rect x="1014" y="153" width="1" height="15" fill="#fff"/>
<rect x="1019" y="145" width="1" height="19"/>
<rect x="1018" y="152" width="3" height="4"/>
<rect x="1025" y="150" width="1" height="32"/>
<rect x="1024" y="155" width="3" height="24"/>
<rect x="1031" y="164" width="1" height="34"/>
<rect x="1030" y="169" width="3" height="10"/>
<rect x="1031" y="170" width="1" height="8" fill="#fff"/>
<rect x="1037" y="160" width="1" height="15"/>
<rect x="1036" y="165" width="3" height="4"/>
<rect x="1037" y="166" width="1" height="2" fill="#fff"/>
<rect x="1042" y="156" width="1" height="13"/>
<rect x="1041" y="163" width="3" height="2"/>
<rect x="1048" y="159" width="1" height="13"/>
<rect x="1047" y="163" width="3" height="3"/>
<rect x="1054" y="158" width="1" height="12"/>
<rect x="1053" y="163" width="3" height="3"/>
<rect x="1054" y="164" width="1" height="1" fill="#fff"/>
<rect x="1060" y="143" width="1" height="23"/>
<rect x="1059" y="147" width="3" height="17"/>
<rect x="1060" y="148" width="1" height="15" fill="#fff"/>
<rect x="1066" y="141" width="1" height="12"/>
<rect x="1065" y="144" width="3" height="3"/>
<rect x="1066" y="145" width="1" height="1" fill="#fff"/>
<rect x="1071" y="132" width="1" height="12"/>
<rect x="1070" y="132" width="3" height="12"/>
<rect x="1071" y="133" width="1" height="10" fill="#fff"/>
<rect x="1077" y="122" width="1" height="12"/>
<rect x="1076" y="127" width="3" height="5"/>
<rect x="1077" y="128" width="1" height="3" fill="#fff"/>
</g>
<path d="M12.1,524.8 C13.2,524.6 15.7,524.2 18.6,523.4 C21.5,522.5 26.0,520.7 29.7,519.7 C33.4,518.8 37.1,518.3 41.0,517.7 C44.9,517.1 49.0,517.0 52.9,516.1 C56.9,515.3 61.9,513.8 64.6,512.7 C67.4,511.6 67.8,510.5 69.7,509.6 C71.5,508.8 72.8,508.6 75.8,507.6 C78.7,506.6 83.4,505.0 87.3,503.6 C91.1,502.2 96.0,500.2 99.0,499.1 C102.0,498.1 103.2,497.6 105.1,497.1 C106.9,496.7 108.3,496.9 110.1,496.5 C111.9,496.2 112.9,496.1 115.8,495.1 C118.7,494.1 123.5,491.9 127.5,490.5 C131.4,489.0 135.6,487.6 139.4,486.4 C143.2,485.2 146.7,484.6 150.5,483.4 C154.3,482.2 159.0,480.4 162.2,479.3 C165.4,478.3 166.7,477.8 169.7,477.3 C172.7,476.8 176.8,476.5 180.4,476.3 C184.0,476.1 187.7,475.6 191.5,475.9 C195.3,476.2 199.1,477.5 203.0,478.3 C207.0,479.2 212.2,480.1 215.2,481.0 C218.1,481.8 218.0,481.5 220.8,483.4 C223.6,485.3 227.9,489.9 231.7,492.5 C235.5,495.0 240.5,497.2 243.4,498.5 C246.4,499.9 246.5,498.9 249.5,500.6 C252.5,502.2 257.3,506.1 261.2,508.6 C265.1,511.2 268.9,513.4 272.7,515.7 C276.6,518.1 281.4,521.2 284.2,522.8 C287.1,524.4 288.0,524.0 290.0,525.2 C292.0,526.4 294.0,528.9 296.1,530.3 C298.1,531.6 299.2,532.8 302.1,533.3 C305.1,533.7 311.1,532.7 313.8,532.9 C316.5,533.0 315.5,532.5 318.3,534.3 C321.0,536.0 326.4,540.7 330.4,543.4 C334.4,546.1 338.1,548.3 342.1,550.5 C346.1,552.6 351.3,555.1 354.2,556.1 C357.2,557.2 356.9,556.8 359.7,556.7 C362.5,556.6 366.9,556.1 370.8,555.7 C374.7,555.3 378.9,554.2 382.9,554.1 C387.0,554.0 392.2,554.9 395.1,555.1 C397.9,555.3 398.3,555.7 400.1,555.1 C401.9,554.5 402.9,552.8 405.8,551.7 C408.7,550.5 413.5,549.6 417.5,548.0 C421.4,546.4 425.6,543.9 429.4,542.0 C433.2,540.0 436.7,538.0 440.5,536.3 C444.3,534.6 448.3,533.3 452.2,531.9 C456.2,530.5 461.2,528.8 464.1,527.8 C467.1,526.9 467.0,527.5 469.8,526.2 C472.6,524.9 477.1,522.2 480.9,520.2 C484.7,518.1 488.7,515.8 492.6,513.7 C496.6,511.6 501.6,509.0 504.5,507.6 C507.5,506.2 507.4,506.2 510.2,505.2 C513.0,504.2 517.5,502.9 521.3,501.6 C525.1,500.2 529.1,498.5 533.0,497.1 C537.0,495.8 541.0,494.6 544.9,493.5 C548.9,492.4 552.9,491.3 556.7,490.5 C560.5,489.6 564.4,489.0 567.8,488.4 C571.1,487.8 574.8,487.1 576.9,486.8 C578.9,486.6 577.6,487.3 580.0,487.0 C582.4,486.8 587.4,485.9 591.1,485.4 C594.8,484.9 599.4,484.2 602.2,483.8 C605.0,483.4 604.9,483.0 607.9,483.0 C610.8,482.9 615.8,483.1 619.8,483.4 C623.8,483.6 628.3,484.7 632.1,484.4 C635.9,484.1 638.9,481.4 642.6,481.4 C646.3,481.4 650.4,483.4 654.3,484.4 C658.3,485.4 662.5,486.5 666.5,487.4 C670.5,488.3 674.6,488.7 678.4,489.8 C682.2,491.0 686.1,493.3 689.1,494.5 C692.1,495.7 694.1,496.7 696.2,496.9 C698.2,497.2 699.4,496.5 701.2,495.9 C703.0,495.3 704.9,494.3 706.9,493.5 C708.8,492.6 710.9,491.4 712.9,490.9 C714.9,490.4 717.2,490.7 719.0,490.5 C720.8,490.2 722.0,490.1 723.8,489.4 C725.7,488.8 727.9,487.7 729.9,486.4 C731.9,485.2 733.7,482.7 735.6,482.0 C737.4,481.2 738.2,481.6 741.2,482.0 C744.2,482.4 750.4,483.8 753.3,484.4 C756.3,485.0 757.0,485.1 758.8,485.8 C760.6,486.5 762.4,487.8 764.2,488.8 C766.1,489.9 768.0,491.3 769.9,492.1 C771.8,492.8 773.5,492.8 775.6,493.5 C777.6,494.1 779.9,495.0 782.0,495.9 C784.1,496.9 786.1,498.0 788.1,499.1 C790.0,500.3 791.8,501.9 793.7,503.0 C795.7,504.1 798.0,504.5 799.8,505.6 C801.6,506.7 802.8,508.3 804.6,509.6 C806.5,511.0 808.8,512.1 810.7,513.7 C812.7,515.3 814.4,518.0 816.4,519.1 C818.3,520.3 820.3,520.4 822.4,520.8 C824.5,521.1 826.9,520.9 828.9,521.2 C830.9,521.4 832.7,522.0 834.5,522.4 C836.4,522.7 837.8,523.3 840.2,523.2 C842.6,523.1 845.9,521.8 848.7,521.8 C851.5,521.7 854.8,522.4 857.2,522.8 C859.5,523.2 860.9,523.6 862.8,524.2 C864.8,524.8 867.7,525.8 868.9,526.2 C870.1,526.6 868.1,525.6 870.0,526.4 C871.9,527.2 876.5,529.9 880.1,530.9 C883.7,531.8 888.9,532.2 891.8,532.3 C894.7,532.4 894.7,531.5 897.7,531.5 C900.6,531.4 905.5,532.0 909.4,531.9 C913.3,531.8 918.1,531.0 920.9,530.9 C923.7,530.8 923.3,531.5 926.2,531.3 C929.0,531.0 934.1,530.2 938.1,529.4 C942.0,528.7 946.8,527.5 949.8,526.8 C952.8,526.1 953.0,525.6 955.9,525.2 C958.7,524.8 963.2,524.5 967.0,524.2 C970.7,523.9 975.6,523.2 978.5,523.2 C981.4,523.1 982.5,523.5 984.5,523.8 C986.6,524.1 987.6,524.8 990.6,524.8 C993.6,524.8 998.6,524.5 1002.3,523.8 C1006.1,523.1 1010.3,521.5 1013.0,520.8 C1015.8,520.0 1015.9,519.7 1018.9,519.3 C1021.9,519.0 1027.0,519.1 1031.0,518.7 C1035.0,518.4 1039.0,517.5 1042.7,517.3 C1046.5,517.2 1050.7,517.7 1053.4,517.7 C1056.2,517.7 1057.3,517.8 1059.3,517.3 C1061.3,516.9 1063.3,516.0 1065.4,515.1 C1067.4,514.2 1069.4,512.6 1071.4,511.7 C1073.5,510.7 1076.6,509.6 1077.7,509.2" fill="none" stroke="#f2d93c" stroke-width="1.6" stroke-linejoin="round" stroke-linecap="round"/>
<polyline points="12.1,513.7 18.6,511.7 24.2,498.5 29.7,499.9 35.4,506.6 41.0,520.4 46.9,517.3 52.9,507.6 58.8,498.9 64.6,493.5 69.7,485.4 75.8,497.9 81.4,495.1 87.3,492.5 93.1,488.8 99.0,478.3 105.1,471.3 110.1,495.1 115.8,486.0 121.6,482.0 127.5,477.9 133.3,477.9 139.4,477.9 145.1,474.3 150.5,468.8 156.6,473.9 162.2,470.9 169.7,466.8 174.7,479.3 180.4,471.3 186.3,478.3 191.5,475.3 197.0,504.6 203.0,498.1 209.1,497.1 215.2,493.5 220.8,504.6 226.7,532.9 231.7,539.3 237.8,523.8 243.4,515.7 249.5,501.6 255.6,527.2 261.2,528.4 267.3,526.2 272.7,530.9 278.4,534.9 284.2,550.5 290.0,542.0 295.7,560.2 302.1,548.0 308.2,534.9 313.8,535.9 318.3,537.9 324.3,582.0 330.4,565.6 336.5,573.7 342.1,577.9 348.6,567.2 354.2,570.7 359.1,549.4 365.2,540.4 370.8,536.5 376.9,544.6 382.9,537.9 389.0,541.4 395.1,545.4 400.1,538.3 405.8,535.9 411.6,543.4 417.5,548.0 423.3,536.3 429.4,526.2 435.1,522.2 440.5,511.1 446.6,510.7 452.2,508.2 457.7,509.2 464.1,517.1 469.8,513.7 475.9,506.6 480.9,506.2 486.4,493.5 492.6,499.9 498.5,505.0 504.5,489.8 510.2,483.8 516.3,493.9 521.3,482.8 527.4,483.0 533.0,474.7 538.9,484.0 544.9,489.4 550.6,484.8 556.7,498.5 562.3,491.5 567.8,484.4 573.8,483.8 580.0,483.4 585.1,480.4 591.1,479.7 597.2,484.4 602.2,474.3 607.9,467.2 613.9,472.3 619.8,493.9 626.1,492.9 632.1,492.9 638.0,470.9 642.6,471.3 647.7,498.5 654.3,513.3 660.8,507.2 666.5,501.6 672.5,493.5 678.4,504.2 684.0,500.6 689.1,497.5 695.2,507.2 701.2,486.4 706.9,459.1 712.9,451.7 719.0,472.3 723.8,459.1 729.9,453.7 735.6,449.0 741.2,506.6 747.3,517.1 753.3,510.7 758.8,525.8 764.2,542.4 769.9,541.6 775.6,522.8 782.0,525.8 788.1,506.6 793.7,512.1 799.8,503.2 804.6,510.7 810.7,508.2 816.4,529.2 822.4,525.4 828.9,521.2 834.5,534.9 840.2,538.3 845.1,528.4 851.1,533.9 857.2,542.6 862.8,542.4 868.9,537.9 875.1,546.0 880.1,531.9 885.8,522.8 891.8,517.7 897.7,515.1 903.3,527.2 909.4,527.2 915.5,522.8 920.9,530.9 926.2,538.3 932.2,528.8 938.1,528.4 943.7,519.3 949.8,522.8 955.9,520.4 961.9,526.4 967.0,514.1 972.6,511.1 978.5,505.2 984.5,533.9 990.6,543.0 996.7,523.8 1002.3,521.4 1007.4,512.7 1013.0,504.0 1018.9,506.2 1024.9,522.8 1031.0,516.7 1036.7,514.3 1042.7,513.7 1048.8,515.3 1053.4,514.3 1059.3,503.6 1065.4,501.2 1071.4,495.5 1077.7,491.9" fill="none" stroke="#7e57c2" stroke-width="1.55" stroke-linejoin="round" stroke-linecap="round" />
<rect x="1305.5" y="108" width="71.5" height="33" fill="#fff"/>
<rect x="984" y="373" width="374" height="79" fill="#fff"/>
<g shape-rendering="crispEdges" stroke="#3c3f4d" stroke-width="1">
<line x1="1377.5" y1="0" x2="1377.5" y2="633"/>
<line x1="11" y1="591.5" x2="1470" y2="591.5"/>
</g>
<rect x="1377" y="114" width="81" height="44" fill="#fff"/>
<text x="23.0" y="26.5" font-size="16" fill="#434651" font-weight="normal" text-anchor="start" textLength="173.4" lengthAdjust="spacingAndGlyphs" stroke="#434651" stroke-width="0.3" >Us Crude Oil CFD, 1D,</text>
<text x="22.3" y="52.5" font-size="16" fill="#434651" font-weight="normal" text-anchor="start" textLength="134.1" lengthAdjust="spacingAndGlyphs" stroke="#434651" stroke-width="0.3" >MA (20, close, 0)</text>
<text x="170.5" y="52.7" font-size="16" fill="#6a6d78" font-weight="normal" text-anchor="start" textLength="59.6" lengthAdjust="spacingAndGlyphs" stroke="#6a6d78" stroke-width="0.3" >10945.1</text>
<text x="22.3" y="78.4" font-size="16" fill="#434651" font-weight="normal" text-anchor="start" textLength="134.1" lengthAdjust="spacingAndGlyphs" stroke="#434651" stroke-width="0.3" >MA (50, close, 0)</text>
<text x="170.5" y="78.5" font-size="16" fill="#22b8d4" font-weight="normal" text-anchor="start" textLength="61.5" lengthAdjust="spacingAndGlyphs" stroke="#22b8d4" stroke-width="0.55" >10562.0</text>
<text x="302.8" y="26.5" font-size="16" fill="#434651" font-weight="normal" text-anchor="start" textLength="12.2" lengthAdjust="spacingAndGlyphs" stroke="#434651" stroke-width="0.3" >O</text>
<text x="315" y="26.5" font-size="16" fill="#131722" font-weight="normal" text-anchor="start" textLength="62.3" lengthAdjust="spacingAndGlyphs" stroke="#131722" stroke-width="0.3" >11686.0</text>
<text x="389.2" y="26.5" font-size="16" fill="#434651" font-weight="normal" text-anchor="start" textLength="10.5" lengthAdjust="spacingAndGlyphs" stroke="#434651" stroke-width="0.3" >H</text>
<text x="400" y="26.5" font-size="16" fill="#131722" font-weight="normal" text-anchor="start" textLength="63.7" lengthAdjust="spacingAndGlyphs" stroke="#131722" stroke-width="0.3" >11867.5</text>
<text x="475" y="26.5" font-size="16" fill="#434651" font-weight="normal" text-anchor="start" textLength="8" lengthAdjust="spacingAndGlyphs" stroke="#434651" stroke-width="0.3" >L</text>
<text x="483" y="26.5" font-size="16" fill="#131722" font-weight="normal" text-anchor="start" textLength="63.4" lengthAdjust="spacingAndGlyphs" stroke="#131722" stroke-width="0.3" >11615.5</text>
<text x="557.7" y="26.5" font-size="16" fill="#434651" font-weight="normal" text-anchor="start" textLength="11" lengthAdjust="spacingAndGlyphs" stroke="#434651" stroke-width="0.3" >C</text>
<text x="570" y="26.5" font-size="16" fill="#131722" font-weight="normal" text-anchor="start" textLength="61.3" lengthAdjust="spacingAndGlyphs" stroke="#131722" stroke-width="0.3" >11777.0</text>
<text x="642.7" y="26.5" font-size="16" fill="#131722" font-weight="normal" text-anchor="start" textLength="53.3" lengthAdjust="spacingAndGlyphs" stroke="#131722" stroke-width="0.3" >+124.3</text>
<text x="703" y="26.5" font-size="16" fill="#131722" font-weight="normal" text-anchor="start" textLength="66.1" lengthAdjust="spacingAndGlyphs" stroke="#131722" stroke-width="0.3" >(+1.07%)</text>
<text x="1390.8" y="22.6" font-size="16" fill="#434651" font-weight="normal" text-anchor="start" textLength="27.8" lengthAdjust="spacingAndGlyphs" stroke="#434651" stroke-width="0.3" >USD</text>
<text x="1391.4" y="71.5" font-size="16" fill="#131722" font-weight="normal" text-anchor="start" textLength="57" lengthAdjust="spacingAndGlyphs" stroke="#131722" stroke-width="0.3" >13000.0</text>
<text x="1391.4" y="270.1" font-size="16" fill="#434651" font-weight="normal" text-anchor="start" textLength="48.7" lengthAdjust="spacingAndGlyphs" stroke="#434651" stroke-width="0.3" >9000.0</text>
<text x="1391.4" y="320.1" font-size="16" fill="#434651" font-weight="normal" text-anchor="start" textLength="48.7" lengthAdjust="spacingAndGlyphs" stroke="#434651" stroke-width="0.3" >8000.0</text>
<text x="1391.4" y="370.1" font-size="16" fill="#434651" font-weight="normal" text-anchor="start" textLength="48.7" lengthAdjust="spacingAndGlyphs" stroke="#434651" stroke-width="0.3" >7000.0</text>
<text x="1391.4" y="420.1" font-size="16" fill="#434651" font-weight="normal" text-anchor="start" textLength="48.7" lengthAdjust="spacingAndGlyphs" stroke="#434651" stroke-width="0.3" >6000.0</text>
<text x="1391.6" y="462.7" font-size="16" fill="#434651" font-weight="normal" text-anchor="start" textLength="39.6" lengthAdjust="spacingAndGlyphs" stroke="#434651" stroke-width="0.3" >80.00</text>
<text x="1391.6" y="510.5" font-size="16" fill="#434651" font-weight="normal" text-anchor="start" textLength="39.6" lengthAdjust="spacingAndGlyphs" stroke="#434651" stroke-width="0.3" >60.00</text>
<text x="1391.6" y="558.9" font-size="16" fill="#434651" font-weight="normal" text-anchor="start" textLength="39.6" lengthAdjust="spacingAndGlyphs" stroke="#434651" stroke-width="0.3" >40.00</text>
<path d="M1377,67.9 H1456 a2,2 0 0 1 2,2 V88.6 a2,2 0 0 1 -2,2 H1377 Z" fill="#4caf50"/>
<text x="1393" y="85.3" font-size="15.5" fill="#fff" font-weight="bold" text-anchor="start" textLength="56.5" lengthAdjust="spacingAndGlyphs" >12513.3</text>
<path d="M1377,92.5 H1456 a2,2 0 0 1 2,2 V112.7 a2,2 0 0 1 -2,2 H1377 Z" fill="#4caf50"/>
<text x="1393" y="109" font-size="15.5" fill="#fff" font-weight="bold" text-anchor="start" textLength="56.5" lengthAdjust="spacingAndGlyphs" >12006.0</text>
<path d="M1377,157.9 H1456 a2,2 0 0 1 2,2 V179 a2,2 0 0 1 -2,2 H1377 Z" fill="#2962ff"/>
<text x="1393" y="175.5" font-size="15.5" fill="#fff" font-weight="bold" text-anchor="start" textLength="56.5" lengthAdjust="spacingAndGlyphs" >11611.2</text>
<path d="M1377,181 H1456 a2,2 0 0 1 2,2 V201.5 a2,2 0 0 1 -2,2 H1377 Z" fill="#2962ff"/>
<text x="1393" y="197.9" font-size="15.5" fill="#fff" font-weight="bold" text-anchor="start" textLength="56.5" lengthAdjust="spacingAndGlyphs" >11385.3</text>
<path d="M1377,205.3 H1456 a2,2 0 0 1 2,2 V225.6 a2,2 0 0 1 -2,2 H1377 Z" fill="#2962ff"/>
<text x="1393" y="222.3" font-size="15.5" fill="#fff" font-weight="bold" text-anchor="start" textLength="56.5" lengthAdjust="spacingAndGlyphs" >10047.7</text>
<text x="1393" y="133.3" font-size="16" fill="#131722" font-weight="normal" text-anchor="start" textLength="56.5" lengthAdjust="spacingAndGlyphs" stroke="#131722" stroke-width="0.3" >11777.0</text>
<text x="1393.4" y="151.8" font-size="16" fill="#5d606b" font-weight="normal" text-anchor="start" textLength="62.2" lengthAdjust="spacingAndGlyphs" stroke="#5d606b" stroke-width="0.3" >16:19:59</text>
<text x="1312.6" y="132.6" font-size="16" fill="#131722" font-weight="normal" text-anchor="start" textLength="56.5" lengthAdjust="spacingAndGlyphs" stroke="#131722" stroke-width="0.3" >WTIUSD</text>
<text x="22.9" y="470.5" font-size="16" fill="#434651" font-weight="normal" text-anchor="start" textLength="209.4" lengthAdjust="spacingAndGlyphs" stroke="#434651" stroke-width="0.3" >RSI (14, close, SMA, 14, 2)</text>
<text x="245" y="470.5" font-size="16" fill="#7e57c2" font-weight="normal" text-anchor="start" textLength="43.5" lengthAdjust="spacingAndGlyphs" stroke="#7e57c2" stroke-width="0.55" >65.43</text>
<text x="300.5" y="470.5" font-size="16" fill="#fbdc3e" font-weight="normal" text-anchor="start" textLength="44" lengthAdjust="spacingAndGlyphs" stroke="#fbdc3e" stroke-width="0.55" >58.04</text>
<text x="355.5" y="470.5" font-size="16" fill="#434651" font-weight="normal" text-anchor="start" textLength="29" lengthAdjust="spacingAndGlyphs" stroke="#434651" stroke-width="0.3" >n/a</text>
<text x="395" y="470.5" font-size="16" fill="#434651" font-weight="normal" text-anchor="start" textLength="29" lengthAdjust="spacingAndGlyphs" stroke="#434651" stroke-width="0.3" >n/a</text>
<text x="93.3" y="617" font-size="16" fill="#434651" font-weight="normal" text-anchor="middle" stroke="#434651" stroke-width="0.3" >Oct</text>
<text x="214.8" y="617" font-size="16" fill="#434651" font-weight="normal" text-anchor="middle" stroke="#434651" stroke-width="0.3" >Nov</text>
<text x="342.4" y="617" font-size="16" fill="#434651" font-weight="normal" text-anchor="middle" stroke="#434651" stroke-width="0.3" >Dec</text>
<text x="469.7" y="617" font-size="16" fill="#434651" font-weight="bold" text-anchor="middle" >2022</text>
<text x="591.5" y="617" font-size="16" fill="#434651" font-weight="normal" text-anchor="middle" stroke="#434651" stroke-width="0.3" >Feb</text>
<text x="706.5" y="617" font-size="16" fill="#434651" font-weight="normal" text-anchor="middle" stroke="#434651" stroke-width="0.3" >Mar</text>
<text x="840.5" y="617" font-size="16" fill="#434651" font-weight="normal" text-anchor="middle" stroke="#434651" stroke-width="0.3" >Apr</text>
<text x="957" y="617" font-size="16" fill="#434651" font-weight="normal" text-anchor="middle" stroke="#434651" stroke-width="0.3" >May</text>
<text x="1083" y="617" font-size="16" fill="#434651" font-weight="normal" text-anchor="middle" stroke="#434651" stroke-width="0.3" >Jun</text>
<text x="1233.5" y="617" font-size="16" fill="#434651" font-weight="normal" text-anchor="middle" stroke="#434651" stroke-width="0.3" >Jul</text>
<text transform="translate(996.10,427.60) scale(0.7327,0.6072)" font-size="100" font-weight="bold" fill="#0b3a50" stroke="#0b3a50" stroke-width="3" stroke-linejoin="miter" vector-effect="non-scaling-stroke" style="vector-effect:non-scaling-stroke">F</text>
<text transform="translate(1043.45,427.12) scale(0.6871,0.5831)" font-size="100" font-weight="bold" fill="#2bb25c" stroke="#2bb25c" stroke-width="4.2" stroke-linejoin="miter" vector-effect="non-scaling-stroke" style="vector-effect:non-scaling-stroke">O</text>
<ellipse cx="1070" cy="406.3" rx="11.5" ry="17.2" fill="#fff" transform="rotate(4 1070 406.3)"/>
<text transform="translate(1105.66,427.60) scale(0.6738,0.6072)" font-size="100" font-weight="bold" fill="#0b3a50" stroke="#0b3a50" stroke-width="3" stroke-linejoin="miter" vector-effect="non-scaling-stroke" style="vector-effect:non-scaling-stroke">R</text>
<text transform="translate(1158.29,427.60) scale(0.6684,0.6072)" font-size="100" font-weight="bold" fill="#0b3a50" stroke="#0b3a50" stroke-width="3" stroke-linejoin="miter" vector-effect="non-scaling-stroke" style="vector-effect:non-scaling-stroke">E</text>
<text transform="translate(1209.10,427.60) scale(0.7136,0.5986)" font-size="100" font-weight="bold" fill="#0b3a50" stroke="#0b3a50" stroke-width="3" stroke-linejoin="miter" vector-effect="non-scaling-stroke" style="vector-effect:non-scaling-stroke">X</text>
<text transform="translate(1260.68,416.10) scale(0.3867,0.3933)" font-size="100" font-weight="bold" fill="#0b3a50" stroke="#0b3a50" stroke-width="1.6" stroke-linejoin="round" vector-effect="non-scaling-stroke" style="vector-effect:non-scaling-stroke">.</text>
<text transform="translate(1271.46,415.90) scale(0.3798,0.2964)" font-size="100" font-weight="bold" fill="#0b3a50" stroke="#0b3a50" stroke-width="1.4" stroke-linejoin="miter" vector-effect="non-scaling-stroke" style="vector-effect:non-scaling-stroke">com</text>
<g stroke="#2bb25c" stroke-width="2.9">
<line x1="1073.5" y1="400.8" x2="1104.2" y2="400.8" opacity="0.6"/>
<line x1="1072" y1="405.7" x2="1101.8" y2="405.7"/>
<line x1="1071" y1="410.4" x2="1100.4" y2="410.4"/>
</g>
<g fill="#131722">
<path d="M11,651.2 H22.6 V665.6 H16.7 V656.5 H11 Z"/>
<circle cx="27.8" cy="654.05" r="2.95"/>
<path d="M33.7,651.2 H40.1 L34.3,665.6 H27.9 Z"/>
</g>
<text x="45.5" y="666.5" font-size="18.5" fill="#131722" font-weight="normal" text-anchor="start" textLength="105.2" lengthAdjust="spacingAndGlyphs" stroke="#131722" stroke-width="0.3" >TradingView</text>
</svg>
</body></html>
